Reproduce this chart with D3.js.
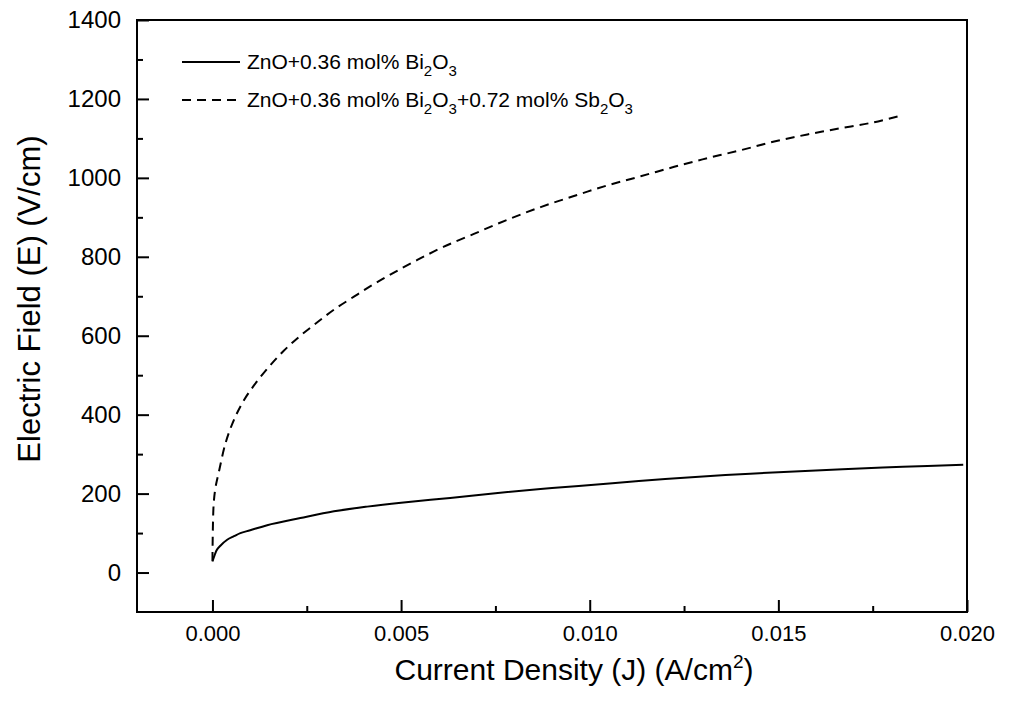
<!DOCTYPE html>
<meta charset="utf-8">
<style>
body { margin: 0; background: #fff; }
svg { font-family: "Liberation Sans", Arial, sans-serif; }
.frame { fill: none; stroke: #000; stroke-width: 2; }
.axis line { stroke: #000; stroke-width: 2; }
.axis path { display: none; }
.axis text { fill: #000; font-family: "Liberation Sans", Arial, sans-serif; }
.curve { fill: none; stroke: #000; stroke-width: 2; }
</style>
<svg width="1009" height="714"></svg>
<script src="https://cdn.jsdelivr.net/npm/d3@7"></script>
<script>

// ZnO + 0.36 mol% Bi2O3 (solid)
var biJ = [0, 0.00006, 0.00012, 0.00021, 0.00039, 0.00057, 0.00074, 0.001, 0.00145, 0.00233, 0.00322,
           0.0041, 0.005, 0.0063, 0.0075, 0.009, 0.0106, 0.012, 0.0136, 0.015, 0.0167, 0.0183, 0.0199];
var biE = [28, 45, 58, 68, 83, 92, 100, 107, 120, 138, 155,
           167, 177, 189, 201, 214, 226, 237, 247, 254, 262, 268, 273];

// ZnO + 0.36 mol% Bi2O3 + 0.72 mol% Sb2O3 (dashed)
var sbJ = [0, 0.00003, 0.00008, 0.00017, 0.00035, 0.00057, 0.00083, 0.0011, 0.00145, 0.00189,
           0.00233, 0.00278, 0.00322, 0.00375, 0.00428, 0.00481, 0.00543, 0.00612, 0.00693, 0.00782,
           0.0087, 0.00958, 0.01047, 0.01135, 0.01224, 0.01312, 0.014, 0.01489, 0.01577, 0.01666,
           0.01754, 0.0183];
var sbE = [30, 170, 215, 255, 329, 387, 436, 474, 516, 562,
           600, 634, 666, 699, 731, 760, 792, 825, 858, 894,
           926, 954, 981, 1004, 1028, 1050, 1070, 1092, 1110, 1126,
           1141, 1159];

var xTicks = [0, 0.005, 0.010, 0.015, 0.020];
var xMinor = [0.0025, 0.0075, 0.0125, 0.0175];
var yTicks = [0, 200, 400, 600, 800, 1000, 1200, 1400];
var yMinor = [100, 300, 500, 700, 900, 1100, 1300];

var svg = d3.select("svg");

var mLeft = 137, mRight = 967, mTop = 20, mBottom = 612;

var x = d3.scaleLinear().domain([-0.002, 0.020]).range([mLeft, mRight]);
var y = d3.scaleLinear().domain([-100, 1400]).range([mBottom, mTop]);

// minor ticks
svg.append("g").attr("class", "axis")
    .attr("transform", "translate(0," + mBottom + ")")
    .call(d3.axisBottom(x).tickValues(xMinor).tickSize(-6).tickFormat(""));
svg.append("g").attr("class", "axis")
    .attr("transform", "translate(" + mLeft + ",0)")
    .call(d3.axisLeft(y).tickValues(yMinor).tickSize(-6).tickFormat(""));

// major ticks
svg.append("g").attr("class", "axis")
    .attr("transform", "translate(0," + mBottom + ")")
    .style("font-size", "22px")
    .call(d3.axisBottom(x).tickValues(xTicks).tickSize(-12).tickPadding(13)
      .tickFormat(d3.format(".3f")))
    .selectAll("text").style("font-size", "22px");
svg.append("g").attr("class", "axis")
    .attr("transform", "translate(" + mLeft + ",0)")
    .call(d3.axisLeft(y).tickValues(yTicks).tickSize(-12).tickPadding(16)
      .tickFormat(d3.format("d")))
    .selectAll("text").style("font-size", "24px");

svg.append("rect").attr("class", "frame")
    .attr("x", mLeft).attr("y", mTop)
    .attr("width", mRight - mLeft).attr("height", mBottom - mTop);

var line = d3.line()
    .x(function(d) { return x(d[0]); })
    .y(function(d) { return y(d[1]); })
    .curve(d3.curveCatmullRom.alpha(0.5));

svg.append("path").attr("class", "curve")
    .datum(d3.zip(biJ, biE))
    .attr("d", line);

svg.append("path").attr("class", "curve")
    .datum(d3.zip(sbJ, sbE))
    .attr("stroke-dasharray", "9,6")
    .attr("d", line);

// legend
var legend = [
  { dash: null, parts: [["ZnO+0.36 mol% Bi", 0], ["2", 1], ["O", 0], ["3", 1]] },
  { dash: "9,6", parts: [["ZnO+0.36 mol% Bi", 0], ["2", 1], ["O", 0], ["3", 1],
      ["+0.72 mol% Sb", 0], ["2", 1], ["O", 0], ["3", 1]] }
];
legend.forEach(function(item, i) {
  var ly = 62 + i * 38;
  svg.append("line")
      .attr("x1", 182).attr("x2", 240).attr("y1", ly).attr("y2", ly)
      .attr("stroke", "#000").attr("stroke-width", 2)
      .attr("stroke-dasharray", item.dash);
  var t = svg.append("text").attr("x", 247).attr("y", ly + 7)
      .style("font-size", "21px");
  var sub = false;
  item.parts.forEach(function(p) {
    var dy = 0;
    if (p[1] && !sub) dy = 7;
    if (!p[1] && sub) dy = -7;
    sub = !!p[1];
    t.append("tspan")
        .attr("dy", dy)
        .style("font-size", p[1] ? "15px" : "21px")
        .text(p[0]);
  });
});

// axis titles
svg.append("text")
    .attr("transform", "translate(40,299) rotate(-90)")
    .attr("text-anchor", "middle")
    .style("font-size", "31px")
    .text("Electric Field (E) (V/cm)");

var xt = svg.append("text")
    .attr("x", (mLeft + mRight) / 2 + 22).attr("y", 680)
    .attr("text-anchor", "middle")
    .style("font-size", "30px");
xt.append("tspan").text("Current Density (J) (A/cm");
xt.append("tspan").attr("dy", -12).style("font-size", "19px").text("2");
xt.append("tspan").attr("dy", 12).text(")");

</script>
